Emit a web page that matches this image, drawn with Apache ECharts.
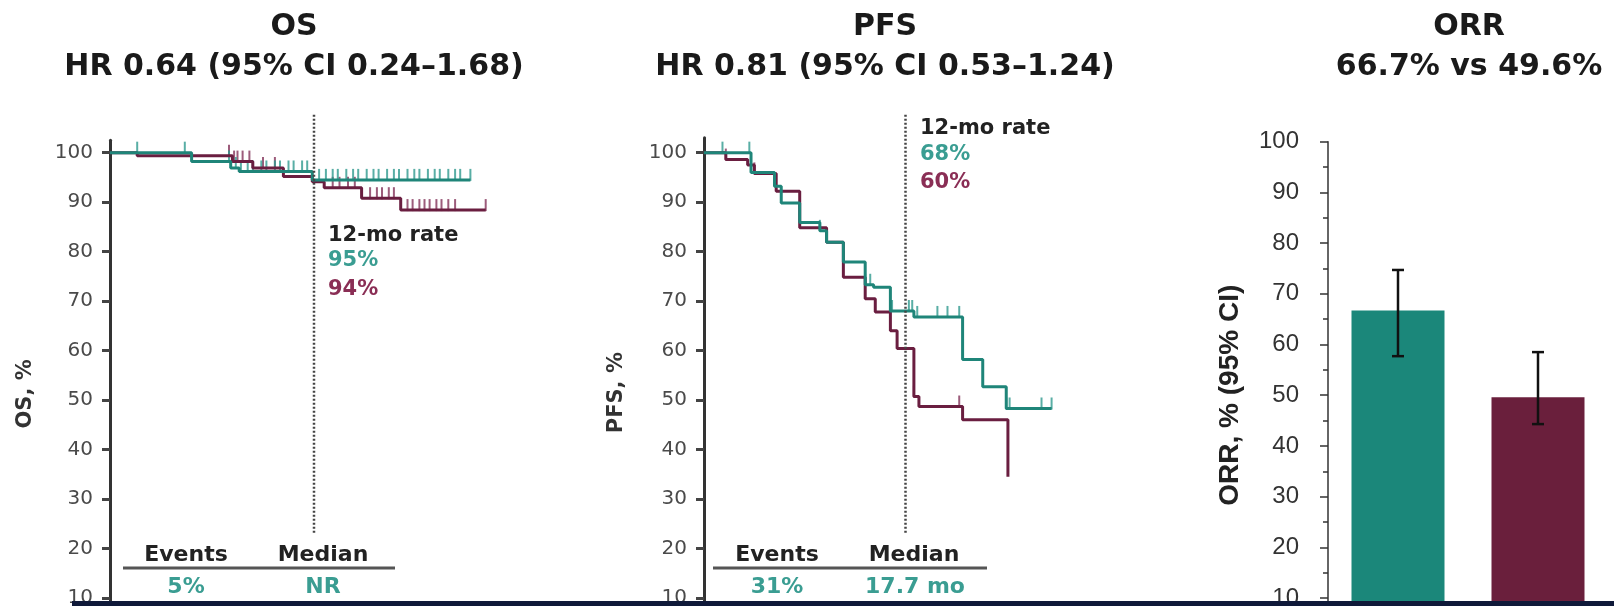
<!DOCTYPE html>
<html>
<head>
<meta charset="utf-8">
<title>OS / PFS / ORR</title>
<script src="https://cdn.jsdelivr.net/npm/echarts@6.0.0/dist/echarts.min.js"></script>
<style>
  html, body { margin: 0; padding: 0; background: #fff; }
  #chart { width: 1614px; height: 606px; }
</style>
</head>
<body>
<div id="chart"></div>
<script>
// ---- data (months, % surviving) ----
var osTeal = [[0, 100], [4.8, 98.2], [7.1, 96.9], [7.6, 96.2], [11.9, 94.5], [21.2, 94.5]];
var osMaroon = [[0, 100], [1.6, 99.4], [7.2, 98.2], [8.4, 96.9], [10.2, 95.2], [11.9, 94.1], [12.6, 92.9], [14.8, 90.8], [17.1, 88.4], [22.1, 88.4]];
var osTealCensor = [1.6, 4.4, 7.0, 7.4, 7.7, 8.1, 8.4, 8.9, 9.2, 9.7, 10.0, 10.5, 10.8, 11.3, 11.6, 12.3, 12.7, 13.1, 13.4, 13.9, 14.3, 14.6, 15.1, 15.5, 15.8, 16.3, 16.7, 17.0, 17.5, 17.9, 18.2, 18.7, 19.1, 19.4, 19.9, 20.3, 20.6, 21.2];
var osMaroonCensor = [7.0, 7.3, 7.5, 7.8, 8.2, 9.0, 9.7, 13.1, 13.5, 14.0, 14.4, 15.3, 15.7, 16.0, 16.4, 16.7, 17.5, 17.8, 18.2, 18.5, 18.8, 19.2, 19.5, 19.9, 20.3, 22.1];

var pfsTeal = [[0, 100], [2.8, 96.0], [4.2, 93.2], [4.6, 89.8], [5.7, 85.9], [6.9, 84.2], [7.3, 81.9], [8.3, 77.9], [9.6, 73.3], [10.1, 72.8], [11.1, 68.0], [12.5, 66.8], [15.4, 58.2], [16.6, 52.7], [18.0, 48.3], [20.7, 48.3]];
var pfsMaroon = [[0, 100], [1.3, 98.6], [2.6, 97.5], [3.0, 95.8], [4.3, 92.2], [5.7, 84.8], [7.3, 81.9], [8.3, 74.8], [9.6, 70.5], [10.2, 67.8], [11.1, 64.0], [11.5, 60.4], [12.5, 50.7], [12.8, 48.7], [15.4, 46.0], [18.1, 34.5]];
var pfsTealCensor = [1.1, 2.7, 4.2, 6.9, 8.3, 9.6, 9.9, 11.2, 12.2, 12.4, 12.7, 13.9, 14.5, 15.2, 18.0, 18.2, 20.1, 20.7];
var pfsMaroonCensor = [1.3, 3.0, 12.5, 15.2];

var landmarkMonth = 12;
var landmarkRange = [23.2, 107.8];

var kmYTicks = [0, 10, 20, 30, 40, 50, 60, 70, 80, 90, 100];

var orrArms = ['Arm A', 'Arm B'];
var orrValues = [66.7, 49.6];
var orrLow = [57.7, 44.3];
var orrHigh = [74.7, 58.5];

// colours
var TEAL = '#1f8579';
var MAROON = '#6a1e40';
var TEAL_TXT = '#3a9d92';
var MAROON_TXT = '#8a2e55';
var TEAL_BAR = '#1b877a';
var MAROON_BAR = '#6a1f3c';

function survAt(steps, t) {
  var s = steps[0][1];
  for (var i = 0; i < steps.length; i++) {
    if (steps[i][0] <= t) s = steps[i][1];
  }
  return s;
}

function censorData(steps, times) {
  return times.map(function (t) { return [t, survAt(steps, t)]; });
}

function kmCurve(idx, steps, color) {
  return {
    type: 'line', xAxisIndex: idx, yAxisIndex: idx, data: steps, step: 'end',
    symbol: 'none', silent: true,
    lineStyle: { color: color, width: 3 }
  };
}

function kmCensor(idx, steps, times, color) {
  return {
    type: 'scatter', xAxisIndex: idx, yAxisIndex: idx, data: censorData(steps, times),
    symbol: 'rect', symbolSize: [2, 12], symbolOffset: [0, -5], silent: true,
    itemStyle: { color: color }
  };
}

function landmark(idx) {
  return {
    type: 'line', xAxisIndex: idx, yAxisIndex: idx, clip: false, silent: true,
    data: [[landmarkMonth, landmarkRange[0]], [landmarkMonth, landmarkRange[1]]],
    symbol: 'none', z: 5,
    lineStyle: { color: '#444', width: 2.5, type: [2, 2] }
  };
}

function kmYAxis(idx, max, name, gap) {
  return {
    type: 'value', gridIndex: idx, min: 0, max: max, interval: 10,
    name: name, nameLocation: 'middle', nameGap: gap, nameRotate: 90,
    nameTextStyle: { fontFamily: 'DejaVu Sans', fontWeight: 'bold', fontSize: 21, color: '#333' },
    axisLine: { show: true, onZero: false, lineStyle: { color: '#333', width: 3 } },
    axisTick: { show: true, length: 8, customValues: kmYTicks, lineStyle: { color: '#444', width: 3 } },
    axisLabel: { show: true, margin: 17, customValues: kmYTicks, fontFamily: 'DejaVu Sans', fontSize: 20, color: '#4a4a4a' },
    splitLine: { show: false }
  };
}

function text(str, x, y, size, color, align) {
  return {
    type: 'text', x: x, y: y, silent: true,
    style: {
      text: str, fill: color, align: align || 'center', verticalAlign: 'middle',
      font: 'bold ' + size + 'px "DejaVu Sans"'
    }
  };
}

function rule(x1, x2, y) {
  return { type: 'line', silent: true, shape: { x1: x1, y1: y, x2: x2, y2: y }, style: { stroke: '#555', lineWidth: 3 } };
}

var chart = echarts.init(document.getElementById('chart'));

var option = {
  animation: false,
  backgroundColor: '#fff',
  grid: [
    { left: 110, top: 140.3, width: 408, height: 507.2, outerBoundsMode: 'none' },
    { left: 704, top: 137.8, width: 403, height: 509.7, outerBoundsMode: 'none' },
    { left: 1328, top: 141.7, width: 280, height: 507, outerBoundsMode: 'none' }
  ],
  xAxis: [
    { type: 'value', gridIndex: 0, min: 0, max: 24, show: false },
    { type: 'value', gridIndex: 1, min: 0, max: 24, show: false },
    { type: 'category', gridIndex: 2, data: orrArms, show: false }
  ],
  yAxis: [
    kmYAxis(0, 102.5, 'OS, %', 74),
    kmYAxis(1, 103, 'PFS, %', 77),
    {
      type: 'value', gridIndex: 2, min: 0, max: 100, interval: 10,
      name: 'ORR, % (95% CI)', nameLocation: 'middle', nameGap: 84, nameRotate: 90,
      nameTextStyle: { fontFamily: 'Liberation Sans', fontWeight: 'bold', fontSize: 28, color: '#222' },
      axisLine: { show: true, onZero: false, lineStyle: { color: '#333', width: 1.5 } },
      axisTick: { show: true, length: 8, lineStyle: { color: '#333', width: 1.5 } },
      minorTick: { show: true, splitNumber: 2, length: 5, lineStyle: { color: '#333', width: 1.5 } },
      axisLabel: { margin: 29, fontFamily: 'Liberation Sans', fontSize: 24, color: '#333' },
      splitLine: { show: false },
      minorSplitLine: { show: false }
    }
  ],
  series: [
    kmCurve(0, osMaroon, MAROON),
    kmCurve(0, osTeal, TEAL),
    kmCensor(0, osMaroon, osMaroonCensor, '#83335a'),
    kmCensor(0, osTeal, osTealCensor, '#2f9a8e'),
    landmark(0),
    kmCurve(1, pfsMaroon, MAROON),
    kmCurve(1, pfsTeal, TEAL),
    kmCensor(1, pfsMaroon, pfsMaroonCensor, '#83335a'),
    kmCensor(1, pfsTeal, pfsTealCensor, '#2f9a8e'),
    landmark(1),
    {
      type: 'bar', xAxisIndex: 2, yAxisIndex: 2, barWidth: 93, silent: true,
      data: orrValues.map(function (v, i) {
        return { value: v, itemStyle: { color: i === 0 ? TEAL_BAR : MAROON_BAR } };
      })
    },
    {
      type: 'custom', xAxisIndex: 2, yAxisIndex: 2, silent: true, z: 10,
      data: orrArms.map(function (a, i) { return [i, orrLow[i], orrHigh[i]]; }),
      encode: { x: 0, y: [1, 2] },
      renderItem: function (params, api) {
        var lo = api.coord([api.value(0), api.value(1)]);
        var hi = api.coord([api.value(0), api.value(2)]);
        var w = 6;
        var st = { stroke: '#111', lineWidth: 2.5 };
        return {
          type: 'group',
          children: [
            { type: 'line', shape: { x1: lo[0], y1: lo[1], x2: hi[0], y2: hi[1] }, style: st },
            { type: 'line', shape: { x1: hi[0] - w, y1: hi[1], x2: hi[0] + w, y2: hi[1] }, style: st },
            { type: 'line', shape: { x1: lo[0] - w, y1: lo[1], x2: lo[0] + w, y2: lo[1] }, style: st }
          ]
        };
      }
    }
  ],
  graphic: [
    // panel titles
    text('OS', 294, 27, 30, '#1a1a1a'),
    text('HR 0.64 (95% CI 0.24\u20131.68)', 294, 67, 30, '#1a1a1a'),
    text('PFS', 885, 27, 30, '#1a1a1a'),
    text('HR 0.81 (95% CI 0.53\u20131.24)', 885, 67, 30, '#1a1a1a'),
    text('ORR', 1469, 27, 30, '#1a1a1a'),
    text('66.7% vs 49.6%', 1469, 67, 30, '#1a1a1a'),
    // 12-month landmark notes
    text('12-mo rate', 328, 236, 21, '#222', 'left'),
    text('95%', 328, 261, 21, TEAL_TXT, 'left'),
    text('94%', 328, 290, 21, MAROON_TXT, 'left'),
    text('12-mo rate', 920, 129, 21, '#222', 'left'),
    text('68%', 920, 155, 21, TEAL_TXT, 'left'),
    text('60%', 920, 183, 21, MAROON_TXT, 'left'),
    // events / median tables
    text('Events', 186, 555, 22, '#222'),
    text('Median', 323, 555, 22, '#222'),
    rule(123, 395, 568),
    text('5%', 186, 587, 22, TEAL_TXT),
    text('NR', 323, 587, 22, TEAL_TXT),
    text('Events', 777, 555, 22, '#222'),
    text('Median', 914, 555, 22, '#222'),
    rule(713, 987, 568),
    text('31%', 777, 587, 22, TEAL_TXT),
    text('17.7 mo', 915, 587, 22, TEAL_TXT),
    // bottom band
    { type: 'rect', z: 100, silent: true, shape: { x: 72, y: 601, width: 1542, height: 5 }, style: { fill: '#0f1939' } }
  ]
};

chart.setOption(option);
</script>
</body>
</html>
